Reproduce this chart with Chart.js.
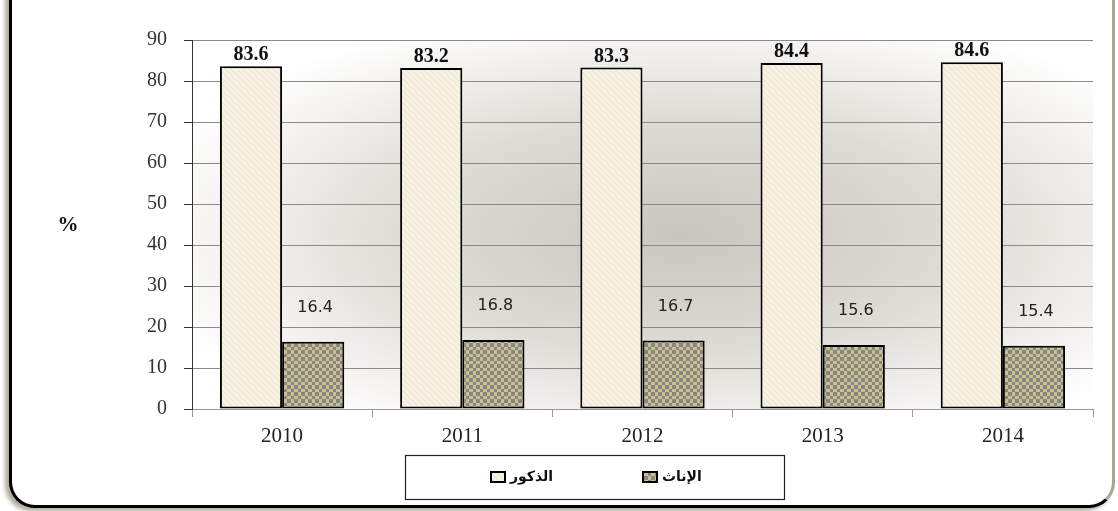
<!DOCTYPE html>
<html>
<head>
<meta charset="utf-8">
<script src="https://cdn.jsdelivr.net/npm/chart.js@4/dist/chart.umd.min.js"></script>
<style>
    body { margin: 0; background: #fff; overflow: hidden; }
    #frame {
        position: absolute; left: 9px; top: -30px; width: 1106px; height: 538px;
        box-sizing: border-box; background: #fff;
        border-left: 3px solid #000; border-bottom: 3px solid #000; border-right: 3px solid #a9a597;
        border-radius: 0 0 26px 26px;
        box-shadow: -4px 3px 4px rgba(120, 112, 90, 0.6);
    }
    #chartContainer { position: absolute; left: 0; top: 0; width: 1118px; height: 511px; }
</style>
</head>
<body>
<div id="frame"></div>
<div id="chartContainer"><canvas id="myChart" width="1118" height="511"></canvas></div>
<script>
// data
var years = ['2010', '2011', '2012', '2013', '2014'];
var maleValues = [83.6, 83.2, 83.3, 84.4, 84.6];
var femaleValues = [16.4, 16.8, 16.7, 15.6, 15.4];
var seriesNames = ['الذكور', 'الإناث'];
var yTicks = [0, 10, 20, 30, 40, 50, 60, 70, 80, 90];

// fill patterns
function StripePattern() {
    var c = document.createElement('canvas');
    c.width = 6; c.height = 6;
    var g = c.getContext('2d');
    g.fillStyle = '#f6f1e3';
    g.fillRect(0, 0, 6, 6);
    g.strokeStyle = '#ebe2c9';
    g.lineWidth = 1;
    g.beginPath();
    g.moveTo(-1, -1); g.lineTo(7, 7);
    g.moveTo(-4, 2); g.lineTo(4, 10);
    g.moveTo(2, -4); g.lineTo(10, 4);
    g.stroke();
    return g.createPattern(c, 'repeat');
}
function CheckPattern() {
    var c = document.createElement('canvas');
    c.width = 7; c.height = 7;
    var g = c.getContext('2d');
    g.fillStyle = '#cbbf8c';
    g.fillRect(0, 0, 7, 7);
    g.fillStyle = '#868686';
    g.fillRect(0, 0, 4, 4);
    g.fillRect(4, 4, 3, 3);
    return g.createPattern(c, 'repeat');
}
var maleFill = StripePattern();
var femaleFill = CheckPattern();

// plot background, labels, legend
var decorPlugin = {
    id: 'decor',
    beforeDraw: function (chart) {
        var ctx = chart.ctx, a = chart.chartArea;
        var cx = (a.left + a.right) / 2 + 40, cy = (a.top + a.bottom) / 2 + 10;
        ctx.save();
        ctx.beginPath();
        ctx.rect(a.left, a.top, a.right - a.left, a.bottom - a.top);
        ctx.clip();
        ctx.translate(cx, cy);
        ctx.scale(1, 0.42);
        var grd = ctx.createRadialGradient(0, 0, 0, 0, 0, 560);
        grd.addColorStop(0, '#c9c6be');
        grd.addColorStop(0.5, '#dedcd6');
        grd.addColorStop(0.85, '#f6f5f3');
        grd.addColorStop(1, '#ffffff');
        ctx.fillStyle = grd;
        ctx.fillRect(-700, -1400, 1400, 2800);
        ctx.restore();
    },
    afterDatasetsDraw: function (chart) {
        var ctx = chart.ctx;
        ctx.save();
        ctx.textAlign = 'center';
        var m0 = chart.getDatasetMeta(0), m1 = chart.getDatasetMeta(1);
        ctx.fillStyle = '#111';
        ctx.textBaseline = 'bottom';
        ctx.font = 'bold 20px "Liberation Serif", serif';
        m0.data.forEach(function (bar, i) {
            ctx.fillText(maleValues[i].toFixed(1), bar.x, bar.y - 1);
        });
        ctx.fillStyle = '#222';
        ctx.textBaseline = 'middle';
        ctx.font = '16px "DejaVu Sans", sans-serif';
        m1.data.forEach(function (bar, i) {
            ctx.fillText(femaleValues[i].toFixed(1), bar.x + 2, bar.y - 34);
        });
        ctx.restore();
    },
    afterDraw: function (chart) {
        var ctx = chart.ctx;
        ctx.save();
        // % title
        ctx.fillStyle = '#111';
        ctx.font = 'bold 21px "Liberation Serif", serif';
        ctx.textAlign = 'center';
        ctx.textBaseline = 'middle';
        ctx.fillText('%', 68, 226);
        // legend box
        ctx.fillStyle = '#fff';
        ctx.fillRect(405, 455, 380, 45);
        ctx.strokeStyle = '#222';
        ctx.lineWidth = 1.2;
        ctx.strokeRect(405.5, 455.5, 379, 44);
        var items = [{x: 490, fill: maleFill, name: seriesNames[0]}, {x: 642, fill: femaleFill, name: seriesNames[1]}];
        ctx.font = 'bold 14px "DejaVu Sans", sans-serif';
        ctx.textAlign = 'left';
        items.forEach(function (it) {
            ctx.fillStyle = it.fill;
            ctx.fillRect(it.x, 471, 16, 12);
            ctx.strokeStyle = '#000';
            ctx.lineWidth = 2;
            ctx.strokeRect(it.x + 1, 472, 14, 10);
            ctx.fillStyle = '#111';
            ctx.fillText(it.name, it.x + 20, 477);
        });
        ctx.restore();
    }
};

var ctx = document.getElementById('myChart').getContext('2d');
var chart = new Chart(ctx, {
    type: 'bar',
    data: {
        labels: years,
        datasets: [{
            label: seriesNames[0],
            data: maleValues,
            backgroundColor: maleFill,
            borderColor: '#000',
            borderWidth: 2,
            borderSkipped: false
        }, {
            label: seriesNames[1],
            data: femaleValues,
            backgroundColor: femaleFill,
            borderColor: '#000',
            borderWidth: 2,
            borderSkipped: false
        }]
    },
    options: {
        responsive: false,
        animation: false,
        events: [],
        categoryPercentage: 0.69,
        barPercentage: 1,
        layout: { padding: { left: 0, right: 25, top: 40, bottom: 58 } },
        plugins: { legend: { display: false }, tooltip: { enabled: false } },
        scales: {
            x: {
                afterFit: function (s) { s.height = 44; },
                grid: { offset: true, drawOnChartArea: false, tickLength: 8, color: '#999' },
                border: { color: '#999' },
                ticks: { color: '#222', padding: 7, font: { family: '"Liberation Serif", serif', size: 21 } }
            },
            y: {
                min: 0,
                max: 90,
                afterFit: function (s) { s.width = 192; },
                afterBuildTicks: function (s) { s.ticks = yTicks.map(function (v) { return { value: v }; }); },
                grid: { color: '#8a8a8a', tickLength: 8, tickColor: '#333' },
                border: { color: '#333' },
                ticks: { color: '#333', padding: 17, font: { family: '"Liberation Serif", serif', size: 20 } }
            }
        }
    },
    plugins: [decorPlugin]
});
</script>
</body>
</html>
